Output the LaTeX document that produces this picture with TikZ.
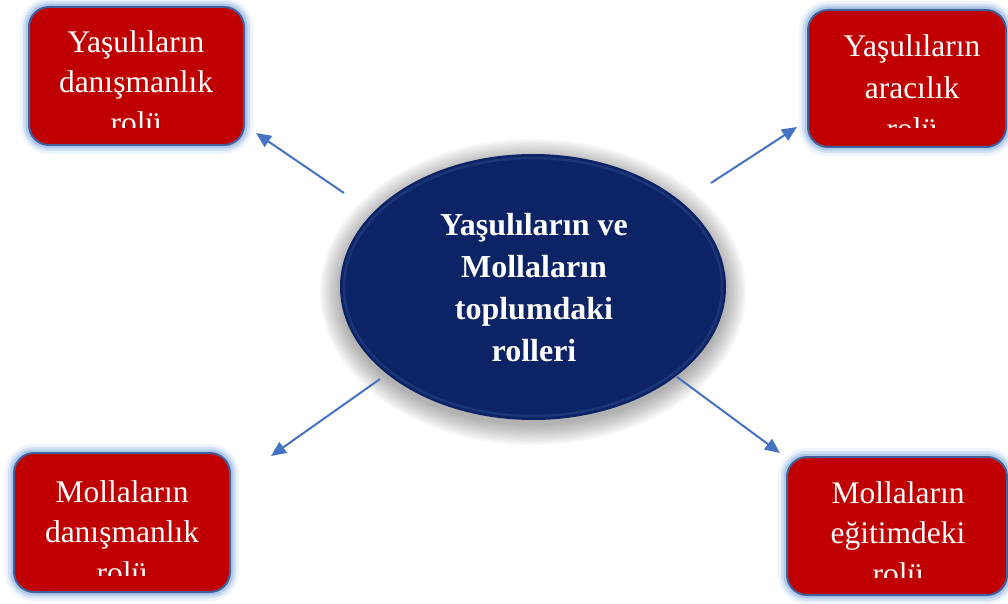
\documentclass[tikz,border=0pt]{standalone}
\usepackage{fontspec}
\setmainfont{Liberation Serif}
\usetikzlibrary{arrows.meta,shapes.geometric}
\definecolor{boxred}{HTML}{C00000}
\definecolor{boxedge}{HTML}{41609C}
\definecolor{glowblue}{HTML}{8DB3E2}
\definecolor{navy}{HTML}{0C2466}
\definecolor{rimblue}{HTML}{3A5596}
\definecolor{arrowblue}{HTML}{4472C4}
\tikzset{
  redbox/.style={rectangle, rounded corners=20pt, fill=boxred, draw=boxedge, line width=2pt,
    preaction={draw=glowblue, line width=18pt, opacity=0.15},
    preaction={draw=glowblue, line width=12pt, opacity=0.3},
    preaction={draw=glowblue, line width=7pt, opacity=0.5}},
  boxtext/.style={anchor=base, text=white, inner sep=0pt, font=\fontsize{31.5}{38}\selectfont},
  centertext/.style={text=white, align=center, font=\bfseries\fontsize{32}{42}\selectfont},
  arr/.style={draw=arrowblue, line width=2pt, -{Triangle[length=15pt,width=13pt]}}
}
\begin{document}
\begin{tikzpicture}[x=1pt,y=-1pt]
\useasboundingbox (0,0) rectangle (1008,604);
% shadow of the central ellipse
\foreach \i in {1,...,10}{
  \fill[black, opacity=0.035] (533,292) ellipse ({191+\i*2.2} and {131+\i*2.2});
}
\node[ellipse, fill=navy, minimum width=386pt, minimum height=266pt, inner sep=0pt] (c) at (533,287) {};
\draw[rimblue, line width=2.5pt, opacity=0.35] (533,287) ellipse (189 and 129);
\node[centertext] (ct) at (534,288) {Yaşulıların ve\\Mollaların\\toplumdaki\\rolleri};

% boxes
\node[redbox, minimum width=215pt, minimum height=138pt] (tl) at (136.5,76) {};
\node[redbox, minimum width=198pt, minimum height=137pt] (tr) at (907,78.5) {};
\node[redbox, minimum width=216pt, minimum height=139pt] (bl) at (122,522.5) {};
\node[redbox, minimum width=220pt, minimum height=138pt] (br) at (897,526) {};

% box texts (third line clipped as in the reference)
\begin{scope}
  \clip (29,7) rectangle (244,128);
  \node[boxtext] (tl1) at (136,53) {Yaşulıların};
  \node[boxtext] (tl2) at (136,93) {danışmanlık};
  \node[boxtext] (tl3) at (136,134) {rolü};
\end{scope}
\begin{scope}
  \clip (808,10) rectangle (1006,128);
  \node[boxtext] (tr1) at (912,57) {Yaşulıların};
  \node[boxtext] (tr2) at (912,99) {aracılık};
  \node[boxtext] (tr3) at (912,140) {rolü};
\end{scope}
\begin{scope}
  \clip (14,453) rectangle (230,575);
  \node[boxtext] (bl1) at (122,502) {Mollaların};
  \node[boxtext] (bl2) at (122,542) {danışmanlık};
  \node[boxtext] (bl3) at (122,583) {rolü};
\end{scope}
\begin{scope}
  \clip (787,457) rectangle (1007,577);
  \node[boxtext] (br1) at (898,503) {Mollaların};
  \node[boxtext] (br2) at (898,543) {eğitimdeki};
  \node[boxtext] (br3) at (898,584) {rolü};
\end{scope}

% arrows
\coordinate (a1s) at (344,193); \coordinate (a1e) at (256,133);
\coordinate (a2s) at (711,183); \coordinate (a2e) at (797,127);
\coordinate (a3s) at (380,379); \coordinate (a3e) at (271,456);
\coordinate (a4s) at (677,377); \coordinate (a4e) at (780,453);
\draw[arr] (a1s) -- (a1e);
\draw[arr] (a2s) -- (a2e);
\draw[arr] (a3s) -- (a3e);
\draw[arr] (a4s) -- (a4e);
\end{tikzpicture}
\end{document}
